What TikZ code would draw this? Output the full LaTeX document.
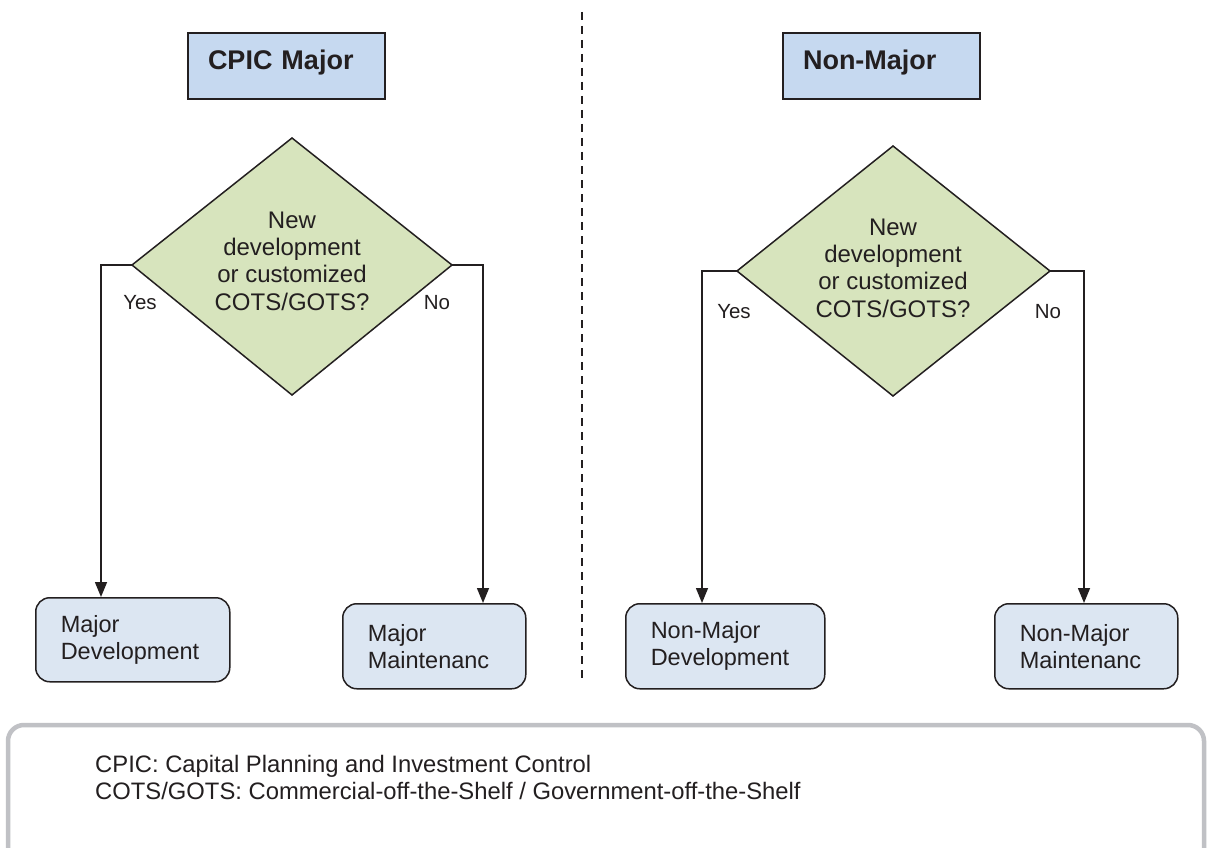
\documentclass[tikz,border=0pt]{standalone}
\usepackage{fontspec}
\setmainfont{Liberation Sans}
\usetikzlibrary{arrows.meta}
\definecolor{txt}{RGB}{35,31,32}
\definecolor{titlefill}{RGB}{198,217,240}
\definecolor{decfill}{RGB}{215,228,189}
\definecolor{endfill}{RGB}{220,230,242}
\definecolor{legendline}{RGB}{192,193,197}
\tikzset{
  titlebox/.style={draw=txt, line width=2pt, fill=titlefill, anchor=north west, inner sep=0pt,
    font=\fontsize{27}{30}\selectfont\bfseries, text=txt},
  decision/.style={draw=txt, line width=1.5pt, fill=decfill, line join=miter},
  qtext/.style={align=center, font=\fontsize{24}{27.3}\selectfont, text=txt, inner sep=0pt},
  endbox/.style={draw=txt, line width=1.5pt, fill=endfill, rounded corners=14pt, anchor=north west,
    align=left, font=\fontsize{23.5}{27}\selectfont, text=txt, inner xsep=25pt, inner ysep=0pt},
  lbl/.style={font=\fontsize{20.5}{24}\selectfont, text=txt, inner sep=0pt},
  arr/.style={draw=txt, line width=1.5pt, -{Triangle[width=12pt,length=15pt]}},
}
\begin{document}
\begin{tikzpicture}[x=1pt,y=-1pt]
\useasboundingbox (0,0) rectangle (1207,848);
\fill[white] (0,0) rectangle (1207,848);

% divider
\draw[txt, line width=1.8pt, dash pattern=on 8pt off 6pt] (582,12) -- (582,680);

% title boxes
\node[titlebox, minimum width=197pt, minimum height=66pt, text width=157pt, align=left,
      text height=19pt, text depth=12pt] (T1) at (187,32) {CPIC Major};
\node[titlebox, minimum width=197pt, minimum height=66pt, text width=157pt, align=left,
      text height=19pt, text depth=12pt] (T2) at (782,32) {Non-Major};

% left decision
\coordinate (LT) at (292,138);
\coordinate (LL) at (132,265);
\coordinate (LR) at (452,265);
\coordinate (LB) at (292,395);
\draw[decision] (LT) -- (LR) -- (LB) -- (LL) -- cycle;
\node[qtext] (LQ) at (292,261) {New\\development\\or customized\\COTS/GOTS?};

% right decision
\coordinate (RT) at (893,146);
\coordinate (RL) at (737,271);
\coordinate (RR) at (1050,271);
\coordinate (RB) at (893,396);
\draw[decision] (RT) -- (RR) -- (RB) -- (RL) -- cycle;
\node[qtext] (RQ) at (893,268) {New\\development\\or customized\\COTS/GOTS?};

% end boxes
\node[endbox, minimum width=194pt, minimum height=84pt, text width=144pt] (MD) at (35,597) {Major\\Development};
\node[endbox, minimum width=183pt, minimum height=85pt, text width=133pt] (MM) at (342,603) {Major\\Maintenanc};
\node[endbox, minimum width=199pt, minimum height=85pt, text width=149pt] (ND) at (625,603) {Non-Major\\Development};
\node[endbox, minimum width=183pt, minimum height=85pt, text width=133pt] (NM) at (994,603) {Non-Major\\Maintenanc};

% connectors
\coordinate (LYb) at (101,265);
\coordinate (LNb) at (483,265);
\coordinate (RYb) at (702,271);
\coordinate (RNb) at (1084,271);
\draw[arr] (LL) -- (LYb) -- (LYb |- MD.north);
\draw[arr] (LR) -- (LNb) -- (LNb |- MM.north);
\draw[arr] (RL) -- (RYb) -- (RYb |- ND.north);
\draw[arr] (RR) -- (RNb) -- (RNb |- NM.north);

% labels
\node[lbl] (LY) at (140,303) {Yes};
\node[lbl] (LN) at (437,303) {No};
\node[lbl] (RY) at (734,312) {Yes};
\node[lbl] (RN) at (1048,312) {No};

% legend
\draw[legendline, line width=4.5pt, rounded corners=16pt] (8,880) -- (8,725) -- (1204,725) -- (1204,880);
\node[anchor=north west, align=left, inner sep=0pt, text=txt, font=\fontsize{23.8}{27}\selectfont] (LEG) at (95,755)
  {CPIC: Capital Planning and Investment Control\\COTS/GOTS: Commercial-off-the-Shelf / Government-off-the-Shelf};
\end{tikzpicture}
\end{document}
